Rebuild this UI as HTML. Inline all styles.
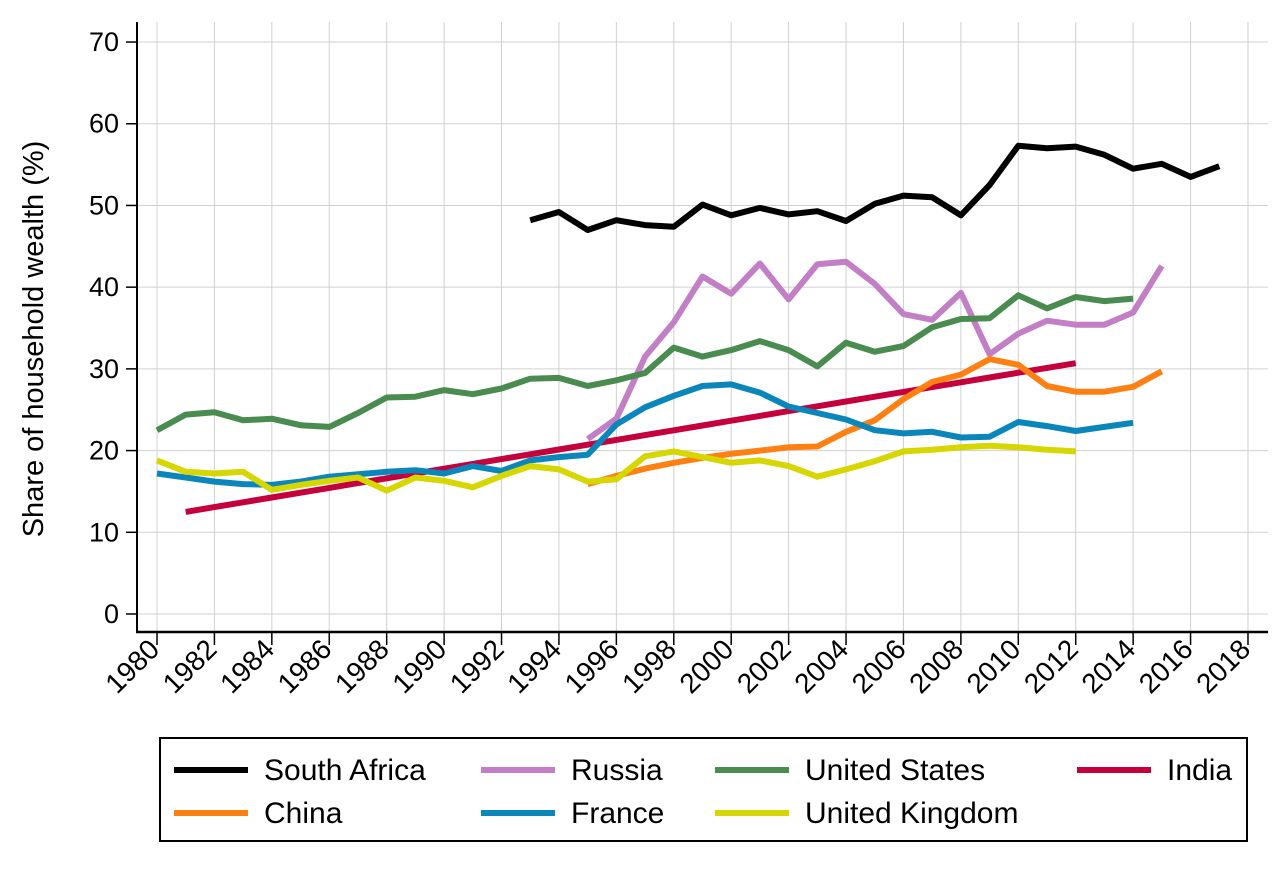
<!DOCTYPE html><html><head><style>body{margin:0;background:#fff}svg{display:block;font-family:"Liberation Sans",sans-serif}</style></head><body>
<svg id="s" width="1276" height="874" xmlns="http://www.w3.org/2000/svg"></svg>
<script>
const s=document.getElementById('s');let h='';
const X=y=>157+(y-1980)*28.71, Y=v=>614-8.171*v;
for(let v=0;v<=70;v+=10){h+=`<line x1="137" x2="1268" y1="${Y(v)}" y2="${Y(v)}" stroke="#d0d0d0" stroke-width="1"/><line x1="126" x2="137" y1="${Y(v)}" y2="${Y(v)}" stroke="#000" stroke-width="1.5"/><text x="119" y="${Y(v)+9}" font-size="27" text-anchor="end">${v}</text>`}
for(let y=1980;y<=2018;y+=2){h+=`<line x1="${X(y)}" x2="${X(y)}" y1="22" y2="632" stroke="#d0d0d0" stroke-width="1"/><line x1="${X(y)}" x2="${X(y)}" y1="632" y2="645" stroke="#000" stroke-width="1.5"/><text transform="translate(${X(y)+4},651) rotate(-45)" font-size="28" text-anchor="end">${y}</text>`}
h+=`<line x1="137" x2="137" y1="22" y2="633" stroke="#000" stroke-width="2"/><line x1="136" x2="1268" y1="632" y2="632" stroke="#000" stroke-width="2.5"/>`;
h+=`<text transform="translate(43,339) rotate(-90)" font-size="29" text-anchor="middle">Share of household wealth (%)</text>`;
const S=[
["#000",1993,[48.2,49.2,47,48.2,47.6,47.4,50.1,48.8,49.7,48.9,49.3,48.1,50.2,51.2,51,48.8,52.5,57.3,57,57.2,56.2,54.5,55.1,53.5,54.8]],
["#c27fc6",1995,[21.4,23.9,31.5,35.7,41.3,39.2,42.9,38.5,42.8,43.1,40.4,36.7,36,39.3,31.8,34.3,35.9,35.4,35.4,36.9,42.6]],
["#4a8b4f",1980,[22.5,24.4,24.7,23.7,23.9,23.1,22.9,24.6,26.5,26.6,27.4,26.9,27.6,28.8,28.9,27.9,28.6,29.5,32.6,31.5,32.3,33.4,32.3,30.3,33.2,32.1,32.8,35.1,36.1,36.2,39,37.4,38.8,38.3,38.6]],
["#c4003d",1981,Array.from({length:32},(_,i)=>12.5+i*(18.2/31))],
["#ff8012",1995,[15.9,16.9,17.8,18.5,19.1,19.6,20,20.4,20.5,22.3,23.7,26.3,28.4,29.3,31.2,30.5,27.9,27.2,27.2,27.8,29.7]],
["#0b86bb",1980,[17.2,16.7,16.2,15.9,15.8,16.2,16.8,17.1,17.4,17.6,17.2,18.1,17.5,18.8,19.2,19.5,23.2,25.3,26.7,27.9,28.1,27.1,25.4,24.6,23.8,22.5,22.1,22.3,21.6,21.7,23.5,23,22.4,22.9,23.4]],
["#d6d600",1980,[18.8,17.4,17.2,17.4,15.2,15.8,16.3,16.7,15.1,16.7,16.3,15.5,16.9,18.1,17.7,16.2,16.5,19.3,19.9,19.2,18.5,18.8,18.1,16.8,17.7,18.7,19.9,20.1,20.4,20.6,20.4,20.1,19.9]]];
for(const [c,y0,d] of S){h+=`<polyline fill="none" stroke="${c}" stroke-width="6" stroke-linejoin="round" points="${d.map((v,i)=>X(y0+i).toFixed(1)+','+Y(v).toFixed(1)).join(' ')}"/>`}
h+=`<rect x="160" y="738" width="1087" height="103" fill="#fff" stroke="#000" stroke-width="2"/>`;
const L=[["South Africa","#000",174,770],["Russia","#c27fc6",481,770],["United States","#4a8b4f",715,770],["India","#c4003d",1077,770],["China","#ff8012",174,813],["France","#0b86bb",481,813],["United Kingdom","#d6d600",715,813]];
for(const [t,c,x,y] of L){h+=`<line x1="${x}" x2="${x+74}" y1="${y}" y2="${y}" stroke="${c}" stroke-width="6"/><text x="${x+90}" y="${y+10}" font-size="30">${t}</text>`}
s.innerHTML=h;
</script></body></html>
